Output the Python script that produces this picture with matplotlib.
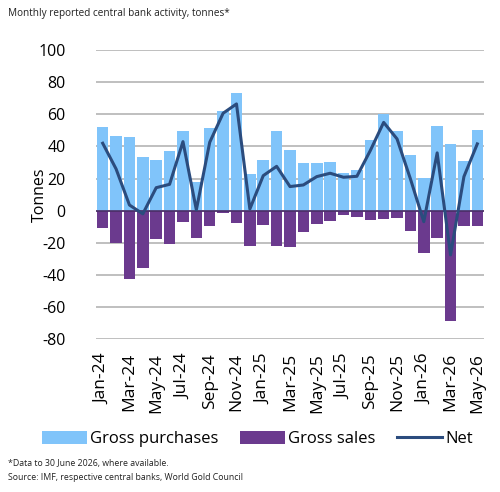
import matplotlib
matplotlib.use("Agg")
import matplotlib.pyplot as plt
import numpy as np

plt.rcParams['font.family'] = ['Open Sans', 'DejaVu Sans']
plt.rcParams['axes.unicode_minus'] = False

# monthly data, tonnes
months = ['Jan-24', 'Feb-24', 'Mar-24', 'Apr-24', 'May-24', 'Jun-24', 'Jul-24', 'Aug-24',
          'Sep-24', 'Oct-24', 'Nov-24', 'Dec-24', 'Jan-25', 'Feb-25', 'Mar-25', 'Apr-25',
          'May-25', 'Jun-25', 'Jul-25', 'Aug-25', 'Sep-25', 'Oct-25', 'Nov-25', 'Dec-25',
          'Jan-26', 'Feb-26', 'Mar-26', 'Apr-26', 'May-26']
gross_purchases = [52.4, 46.8, 46.2, 33.3, 31.8, 37.4, 49.9, 18.1, 51.8, 62.4, 73.6, 22.9,
                   31.8, 49.5, 37.8, 29.5, 29.5, 30.0, 23.7, 25.6, 44.3, 60.3, 49.5, 34.7,
                   20.4, 52.8, 41.6, 30.8, 50.5]
gross_sales = [-10.8, -20.4, -42.8, -35.5, -17.7, -21.0, -6.9, -16.8, -9.4, -1.7, -7.7, -21.8,
               -8.9, -21.8, -22.9, -13.5, -8.1, -6.7, -2.7, -4.0, -6.0, -5.4, -4.4, -12.9,
               -26.6, -17.0, -69.0, -9.4, -9.4]
net = [42.0, 26.0, 3.5, -2.0, 14.3, 16.4, 43.0, 0.5, 42.6, 60.7, 66.5, 1.0,
       21.8, 27.6, 15.0, 16.0, 21.2, 23.3, 20.8, 21.4, 37.4, 55.0, 44.7, 19.8,
       -6.9, 36.0, -27.6, 21.2, 41.6]

x = np.arange(len(months))

fig = plt.figure(figsize=(5.0, 4.92), dpi=100)
ax = fig.add_axes([0.192, 0.311, 0.776, 0.587])

b1 = ax.bar(x, gross_purchases, width=0.86, color='#80c4fa', label='Gross purchases', zorder=2)
b2 = ax.bar(x, gross_sales, width=0.86, color='#6b3a8e', label='Gross sales', zorder=2)
ax.axhline(0, color='#4a2d66', lw=1.2, zorder=3)
l1, = ax.plot(x, net, color='#2b4c7e', lw=2.2, label='Net', zorder=4)

ax.set_xlim(-0.5, len(months) - 0.5)
ax.set_ylim(-80, 100)
ax.set_yticks(range(-80, 101, 20))
ax.grid(axis='y', color='#b4b4b4', lw=1.2, zorder=0)
ax.set_axisbelow(True)
for s in ax.spines.values():
    s.set_visible(False)

ax.set_xticks(x[::2])
ax.set_xticklabels(months[::2], rotation=90, fontsize=12.5)
ax.tick_params(axis='y', labelsize=11.5, length=0, pad=22)
ax.tick_params(axis='x', length=0, pad=10)
ax.set_ylabel('Tonnes', fontsize=11.5)
ax.yaxis.set_label_coords(-0.125, 0.5)

fig.text(0.016, 0.973, 'Monthly reported central bank activity, tonnes*', fontsize=7.2,
         va='center', ha='left', color='#222222')

fig.legend(handles=[b1, b2, l1], loc='center', bbox_to_anchor=(0.515, 0.108), ncol=3,
           frameon=False, fontsize=12, handlelength=2.7, handleheight=0.9,
           columnspacing=1.3, handletextpad=0.2)

fig.text(0.016, 0.058, '*Data to 30 June 2026, where available.', fontsize=6.3,
         va='center', ha='left', color='#222222')
fig.text(0.016, 0.030, 'Source: IMF, respective central banks, World Gold Council', fontsize=6.3,
         va='center', ha='left', color='#222222')

fig.savefig('out.png', dpi=100)
